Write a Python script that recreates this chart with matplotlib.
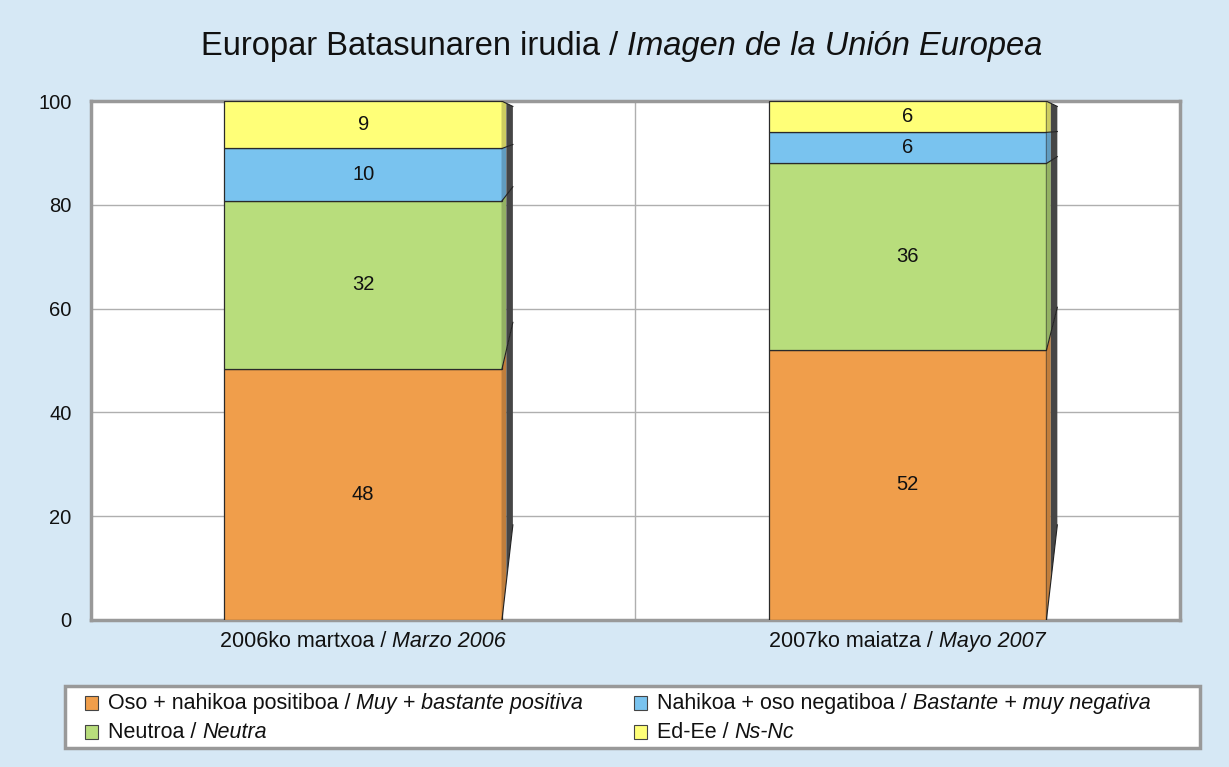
import numpy as np
import matplotlib
matplotlib.use('Agg')
import matplotlib.pyplot as plt
from matplotlib.patches import Polygon, Rectangle
from matplotlib.colors import to_rgb
from matplotlib.offsetbox import TextArea, HPacker, DrawingArea, AnnotationBbox

plt.rcParams['font.family'] = ['Liberation Sans', 'DejaVu Sans']

# data
cat_main = ['2006ko martxoa /', '2007ko maiatza /']
cat_ital = ['Marzo 2006', 'Mayo 2007']
name_main = ['Oso + nahikoa positiboa /', 'Neutroa /', 'Nahikoa + oso negatiboa /', 'Ed-Ee /']
name_ital = ['Muy + bastante positiva', 'Neutra', 'Bastante + muy negativa', 'Ns-Nc']
positive = [48.4, 52.0]
neutral = [32.4, 36.0]
negative = [10.1, 6.0]
nsnc = [9.1, 6.0]
labels = [[48, 52], [32, 36], [10, 6], [9, 6]]
colors = ['#F09E4B', '#B8DD7C', '#79C3EF', '#FFFF78']

bg = '#D6E8F5'
fs = 14.5
fs_txt = 15.5
fig = plt.figure(figsize=(12.29, 7.67), dpi=100, facecolor=bg)
ax = fig.add_axes([0.074, 0.192, 0.886, 0.676])
ax.set_facecolor('white')


def mixed(a, b, size):
    # upright text followed by italic text
    return HPacker(children=[TextArea(a, textprops=dict(fontsize=size, color='#111111')),
                             TextArea(b, textprops=dict(fontsize=size, color='#111111',
                                                        fontstyle='italic'))],
                   sep=size * 0.28, align='baseline', pad=0)


x = np.arange(len(cat_main))
w = 0.51
dx = 0.020
series = [positive, neutral, negative, nsnc]
bottom = np.zeros(len(x))


def back(y):
    return 18.3 + y * 0.807


for vals, col, lab in zip(series, colors, labels):
    vals = np.array(vals)
    bars = ax.bar(x, vals, w, bottom=bottom, color=col, edgecolor='#2a2a2a',
                  linewidth=0.9, zorder=3)
    ax.bar_label(bars, labels=[str(v) for v in lab], label_type='center',
                 fontsize=fs, color='#111111')
    # 3d side strip
    for xi, b, v in zip(x, bottom, vals):
        xr = xi + w / 2
        y0, y1 = b, b + v
        m0 = back(y0) * 0.4 + y0 * 0.6
        m1 = back(y1) * 0.4 + y1 * 0.6
        dark = tuple(c * 0.8 for c in to_rgb(col))
        ax.add_patch(Polygon([(xr, y0), (xr, y1), (xr + dx * 0.4, m1), (xr + dx * 0.4, m0)],
                             closed=True, facecolor=dark, edgecolor='none', zorder=3,
                             clip_on=False))
        ax.add_patch(Polygon([(xr + dx * 0.4, m0), (xr + dx * 0.4, m1),
                              (xr + dx, back(y1)), (xr + dx, back(y0))],
                             closed=True, facecolor='#464646', edgecolor='none', zorder=3,
                             clip_on=False))
        ax.plot([xr, xr + dx], [y1, back(y1)], color='#222222', lw=0.8, zorder=4)
    bottom = bottom + vals

for xi in x:
    xr = xi + w / 2
    ax.plot([xr, xr + dx], [0, back(0)], color='#222222', lw=0.8, zorder=4)

ax.set_xlim(-0.5, 1.5)
ax.set_ylim(0, 100)
ax.set_yticks(np.arange(0, 101, 20))
ax.set_xticks(x)
ax.set_xticklabels([])
ax.tick_params(axis='both', length=0, labelsize=fs, colors='#111111')
ax.tick_params(axis='y', pad=14)
ax.grid(axis='y', color='#AFAFAF', lw=1, zorder=0)
ax.axvline(0.5, color='#AFAFAF', lw=1, zorder=0)
for s in ax.spines.values():
    s.set_color('#999999')
    s.set_linewidth(2.5)

for xi, a, b in zip(x, cat_main, cat_ital):
    ax.add_artist(AnnotationBbox(mixed(a, b, fs_txt), (xi, 0), xycoords=('data', 'axes fraction'),
                                 xybox=(0, -8), boxcoords='offset points', box_alignment=(0.5, 1),
                                 frameon=False, pad=0, annotation_clip=False))

fig.add_artist(AnnotationBbox(mixed('Europar Batasunaren irudia /', 'Imagen de la Unión Europea', 23.5),
                              (0.506, 0.939), xycoords='figure fraction',
                              box_alignment=(0.5, 0.5), frameon=False, pad=0))

# legend
fig.add_artist(Rectangle((0.053, 0.025), 0.923, 0.080, transform=fig.transFigure,
                         facecolor='white', edgecolor='#999999', lw=2.5))
leg_pos = [(0.069, 0.0834), (0.069, 0.0456), (0.516, 0.0834), (0.516, 0.0456)]
for (lx, ly), col, a, b in zip(leg_pos, colors, name_main, name_ital):
    da = DrawingArea(9.5, 9.5, 0, 0)
    da.add_artist(Rectangle((0, 0), 9.5, 9.5, facecolor=col, edgecolor='#444444', lw=0.8))
    box = HPacker(children=[da, mixed(a, b, fs_txt)], sep=7, align='center', pad=0)
    fig.add_artist(AnnotationBbox(box, (lx, ly), xycoords='figure fraction',
                                  box_alignment=(0, 0.5), frameon=False, pad=0))

fig.savefig('out.png', dpi=100, facecolor=bg)
